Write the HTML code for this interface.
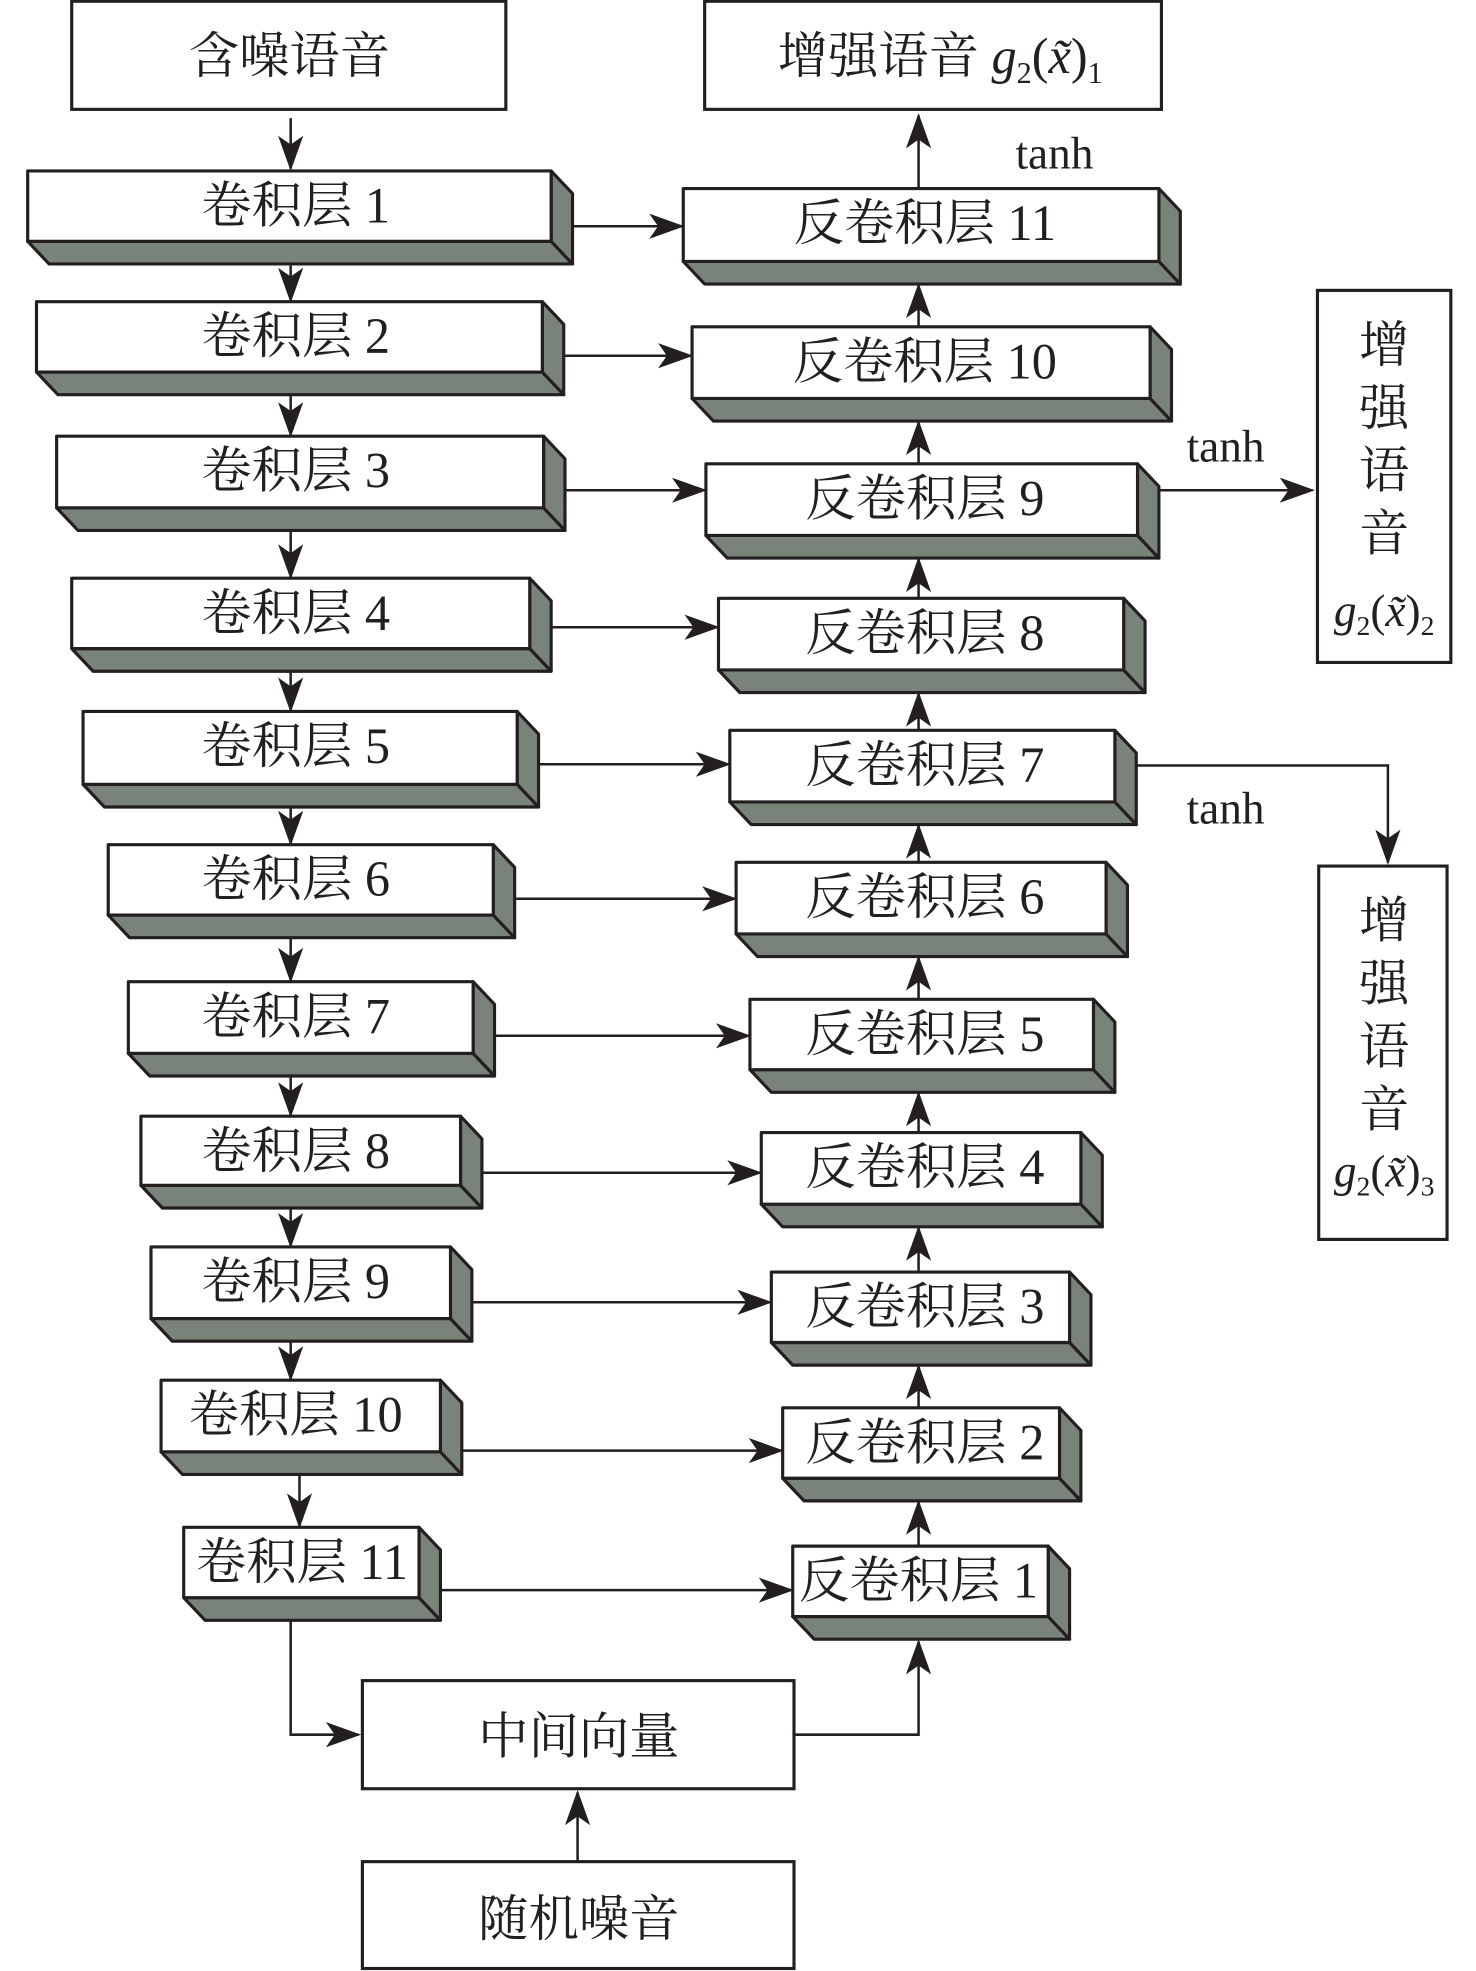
<!DOCTYPE html>
<html><head><meta charset="utf-8"><style>
html,body{margin:0;padding:0;background:#fff;}
svg{display:block;}
text{font-family:"Liberation Serif","Noto Serif CJK SC",serif;fill:#231f20;}
</style></head><body>
<svg width="1476" height="1971" viewBox="0 0 1173 1568" preserveAspectRatio="none" xmlns="http://www.w3.org/2000/svg">
<defs>
<marker id="b" markerWidth="28" markerHeight="20" refX="26" refY="10" orient="auto" markerUnits="userSpaceOnUse" viewBox="0 0 28 20">
<path d="M0,0 L28,10 L0,20 L7,10 Z" fill="#231f20"/>
</marker>
</defs>
<g fill="none" stroke="#231f20" stroke-width="2.5">
<rect x="57" y="1" width="345" height="86" fill="#fff"/>
<rect x="560" y="1" width="363" height="86" fill="#fff"/>
<rect x="1047" y="231" width="106" height="296" fill="#fff"/>
<rect x="1048" y="689" width="102" height="297" fill="#fff"/>
<rect x="288" y="1337" width="343" height="86" fill="#fff"/>
<rect x="288" y="1481" width="343" height="85" fill="#fff"/>
</g>
<g id="blocks" stroke="#231f20" stroke-width="2.5" stroke-linejoin="round"></g>
<g id="lines" fill="none" stroke="#231f20" stroke-width="2"></g>
<g id="texts"></g>
<text x="230" y="58" font-size="40" text-anchor="middle">含噪语音</text>
<text x="618" y="58" font-size="40">增强语音 <tspan font-style="italic">g</tspan><tspan font-size="24" dy="8">2</tspan><tspan dy="-8">(</tspan><tspan font-style="italic">x̃</tspan>)<tspan font-size="24" dy="8">1</tspan></text>
<text x="838" y="134" font-size="36" text-anchor="middle">tanh</text>
<text x="974" y="367" font-size="36" text-anchor="middle">tanh</text>
<text x="974" y="655" font-size="36" text-anchor="middle">tanh</text>
<g font-size="40" text-anchor="middle">
<text x="1100" y="288">增</text><text x="1100" y="338">强</text><text x="1100" y="388">语</text><text x="1100" y="438">音</text>
<text x="1100" y="746">增</text><text x="1100" y="796">强</text><text x="1100" y="846">语</text><text x="1100" y="896">音</text>
</g>
<text x="1100" y="498" font-size="36" text-anchor="middle"><tspan font-style="italic">g</tspan><tspan font-size="22" dy="7">2</tspan><tspan dy="-7">(</tspan><tspan font-style="italic">x̃</tspan>)<tspan font-size="22" dy="7">2</tspan></text>
<text x="1100" y="944" font-size="36" text-anchor="middle"><tspan font-style="italic">g</tspan><tspan font-size="22" dy="7">2</tspan><tspan dy="-7">(</tspan><tspan font-style="italic">x̃</tspan>)<tspan font-size="22" dy="7">3</tspan></text>
<text x="460" y="1395" font-size="40" text-anchor="middle">中间向量</text>
<text x="460" y="1540" font-size="40" text-anchor="middle">随机噪音</text>
<script>
const NS="http://www.w3.org/2000/svg";
const B=document.getElementById('blocks'),L=document.getElementById('lines'),T=document.getElementById('texts');
function el(p,t,a,txt){const e=document.createElementNS(NS,t);for(const k in a)e.setAttribute(k,a[k]);if(txt)e.textContent=txt;p.appendChild(e);return e;}
function block(x1,y1,x2,y2,label,cx){
 const d=17,h=18;
 el(B,'polygon',{points:`${x1},${y2} ${x2},${y2} ${x2+d},${y2+h} ${x1+d},${y2+h}`,fill:'#7a837a'});
 el(B,'polygon',{points:`${x2},${y1} ${x2+d},${y1+h} ${x2+d},${y2+h} ${x2},${y2}`,fill:'#7a837a'});
 el(B,'rect',{x:x1,y:y1,width:x2-x1,height:y2-y1,fill:'#fff'});
 el(T,'text',{x:cx,y:y1+41,'font-size':40,'text-anchor':'middle'},label);
}
const conv=[[22,136,438,192],[29,240,431,296],[45,347,432,404],[57,460,421,516],[66,566,411,624],[86,672,392,728],[102,781,376,838],[112,888,366,943],[120,992,358,1049],[128,1098,350,1155],[146,1215,333,1271]];
const dec=[[630,1230,833,1286],[622,1120,842,1176],[613,1012,850,1068],[605,901,859,958],[596,795,869,851],[585,686,879,743],[580,581,886,638],[571,476,893,533],[561,369,904,426],[550,260,914,317],[543,150,921,208]];
conv.forEach((c,i)=>block(...c,'卷积层 '+(i+1),i==10?240:235));
dec.forEach((c,i)=>block(...c,'反卷积层 '+(i+1),i==0?730:735));
const hy=[180,283,390,499,608,715,824,933,1036,1154,1265];
function ln(pts){el(L,'polyline',{points:pts,'marker-end':'url(#b)'});}
ln('231,94 231,134');
for(let i=0;i<10;i++){const x=i>=9?238:231;ln(`${x},${conv[i][3]+18} ${x},${conv[i+1][1]-1}`);}
conv.forEach((c,i)=>{const di=10-i;ln(`${c[2]+17},${hy[i]} ${dec[di][0]-1},${hy[i]}`);});
for(let i=0;i<10;i++){ln(`730,${dec[i][1]} 730,${dec[i+1][3]+19}`);}
ln('730,150 730,92');
ln('921,390 1043,390');
ln('903,609 1103,609 1103,686');
ln('231,1289 231,1380 285,1380');
ln('631,1380 730,1380 730,1306');
ln('459,1481 459,1426');
</script>
</svg>
</body></html>
